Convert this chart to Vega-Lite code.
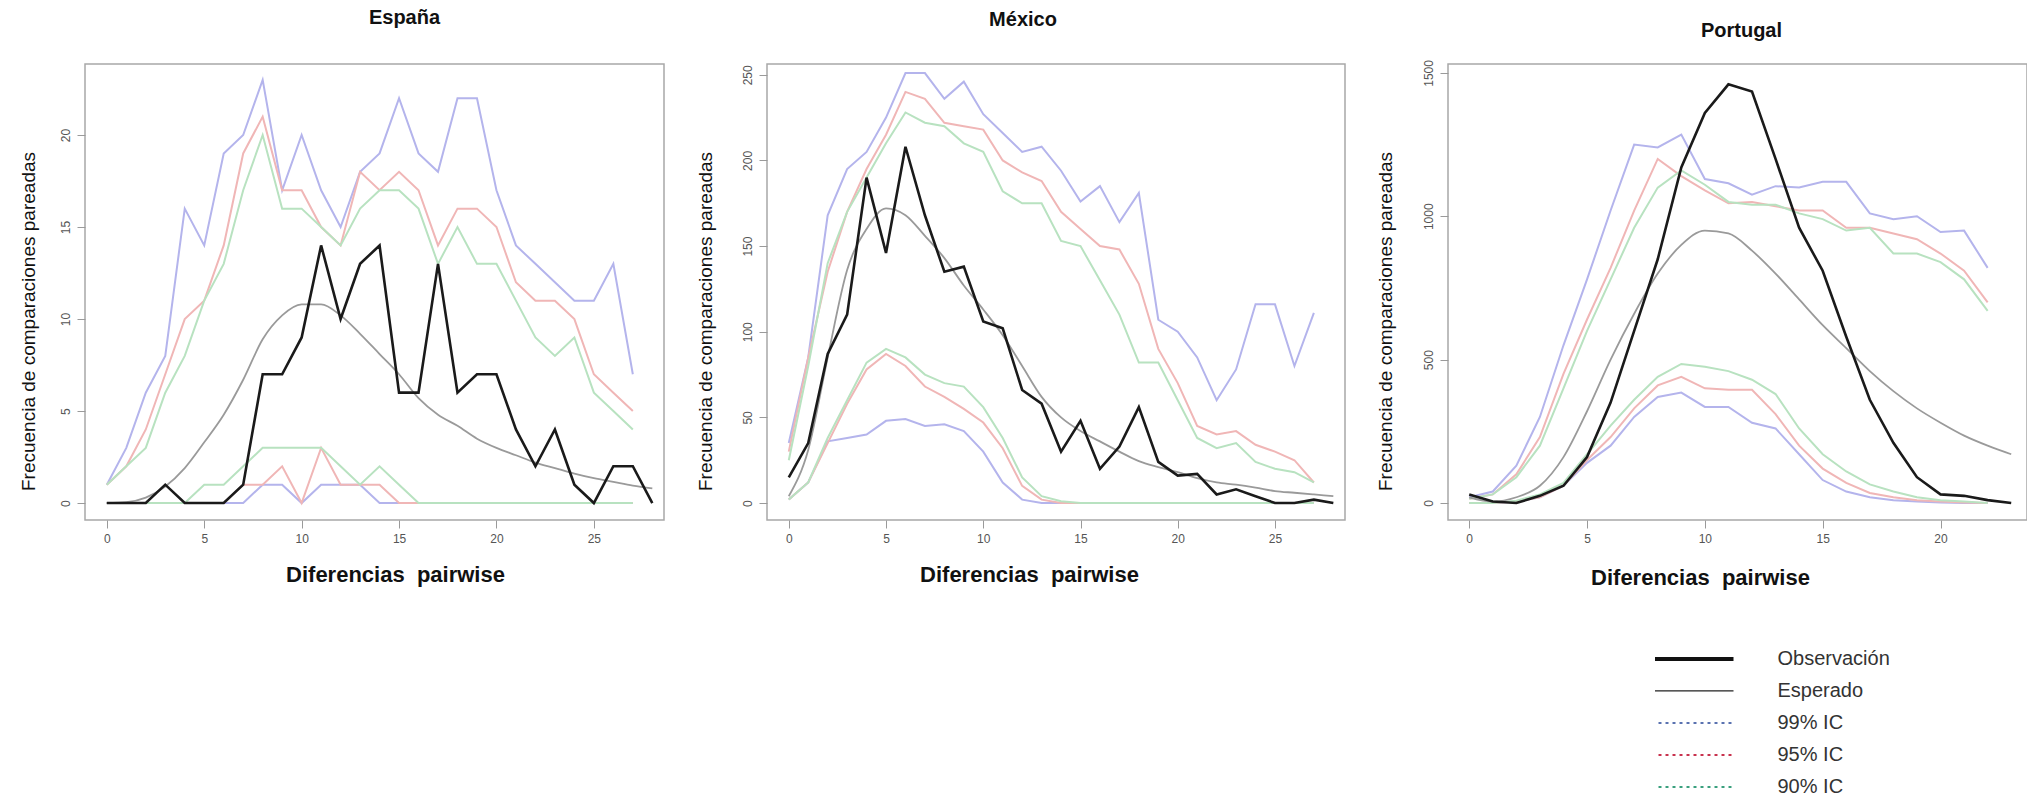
{
"$schema": "https://vega.github.io/schema/vega-lite/v6.json",
"background": "white",
"padding": {"left": 18, "top": 7, "right": 0, "bottom": 0},
"bounds": "flush",
"spacing": 103,
"config": {
  "view": {"stroke": "#a8a8a8", "strokeWidth": 1.5},
  "font": "Liberation Sans",
  "axis": {"labelFont": "Liberation Sans", "titleFont": "Liberation Sans", "grid": false, "domain": false, "tickSize": 8, "tickColor": "#9a9a9a", "labelColor": "#555555", "labelFontSize": 12, "labelPadding": 5, "titleColor": "#111111", "format": "d"},
  "title": {"font": "Liberation Sans"}
},
"datasets": {
"es": [
{"serie":"obs","x":0,"y":0},{"serie":"obs","x":1,"y":0},{"serie":"obs","x":2,"y":0},{"serie":"obs","x":3,"y":1},{"serie":"obs","x":4,"y":0},{"serie":"obs","x":5,"y":0},{"serie":"obs","x":6,"y":0},{"serie":"obs","x":7,"y":1},{"serie":"obs","x":8,"y":7},{"serie":"obs","x":9,"y":7},{"serie":"obs","x":10,"y":9},{"serie":"obs","x":11,"y":14},{"serie":"obs","x":12,"y":10},{"serie":"obs","x":13,"y":13},{"serie":"obs","x":14,"y":14},{"serie":"obs","x":15,"y":6},{"serie":"obs","x":16,"y":6},{"serie":"obs","x":17,"y":13},{"serie":"obs","x":18,"y":6},{"serie":"obs","x":19,"y":7},{"serie":"obs","x":20,"y":7},{"serie":"obs","x":21,"y":4},{"serie":"obs","x":22,"y":2},{"serie":"obs","x":23,"y":4},{"serie":"obs","x":24,"y":1},{"serie":"obs","x":25,"y":0},{"serie":"obs","x":26,"y":2},{"serie":"obs","x":27,"y":2},{"serie":"obs","x":28,"y":0},
{"serie":"esp","x":0,"y":0},{"serie":"esp","x":1,"y":0.05},{"serie":"esp","x":2,"y":0.3},{"serie":"esp","x":3,"y":0.9},{"serie":"esp","x":4,"y":1.9},{"serie":"esp","x":5,"y":3.3},{"serie":"esp","x":6,"y":4.8},{"serie":"esp","x":7,"y":6.7},{"serie":"esp","x":8,"y":8.9},{"serie":"esp","x":9,"y":10.2},{"serie":"esp","x":10,"y":10.8},{"serie":"esp","x":11,"y":10.8},{"serie":"esp","x":12,"y":10.2},{"serie":"esp","x":13,"y":9.2},{"serie":"esp","x":14,"y":8.1},{"serie":"esp","x":15,"y":7.0},{"serie":"esp","x":16,"y":5.7},{"serie":"esp","x":17,"y":4.8},{"serie":"esp","x":18,"y":4.2},{"serie":"esp","x":19,"y":3.5},{"serie":"esp","x":20,"y":3.0},{"serie":"esp","x":21,"y":2.6},{"serie":"esp","x":22,"y":2.2},{"serie":"esp","x":23,"y":1.9},{"serie":"esp","x":24,"y":1.6},{"serie":"esp","x":25,"y":1.35},{"serie":"esp","x":26,"y":1.15},{"serie":"esp","x":27,"y":0.95},{"serie":"esp","x":28,"y":0.8},
{"serie":"s99","x":0,"y":1},{"serie":"s99","x":1,"y":3},{"serie":"s99","x":2,"y":6},{"serie":"s99","x":3,"y":8},{"serie":"s99","x":4,"y":16},{"serie":"s99","x":5,"y":14},{"serie":"s99","x":6,"y":19},{"serie":"s99","x":7,"y":20},{"serie":"s99","x":8,"y":23},{"serie":"s99","x":9,"y":17},{"serie":"s99","x":10,"y":20},{"serie":"s99","x":11,"y":17},{"serie":"s99","x":12,"y":15},{"serie":"s99","x":13,"y":18},{"serie":"s99","x":14,"y":19},{"serie":"s99","x":15,"y":22},{"serie":"s99","x":16,"y":19},{"serie":"s99","x":17,"y":18},{"serie":"s99","x":18,"y":22},{"serie":"s99","x":19,"y":22},{"serie":"s99","x":20,"y":17},{"serie":"s99","x":21,"y":14},{"serie":"s99","x":22,"y":13},{"serie":"s99","x":23,"y":12},{"serie":"s99","x":24,"y":11},{"serie":"s99","x":25,"y":11},{"serie":"s99","x":26,"y":13},{"serie":"s99","x":27,"y":7},
{"serie":"s95","x":0,"y":1},{"serie":"s95","x":1,"y":2},{"serie":"s95","x":2,"y":4},{"serie":"s95","x":3,"y":7},{"serie":"s95","x":4,"y":10},{"serie":"s95","x":5,"y":11},{"serie":"s95","x":6,"y":14},{"serie":"s95","x":7,"y":19},{"serie":"s95","x":8,"y":21},{"serie":"s95","x":9,"y":17},{"serie":"s95","x":10,"y":17},{"serie":"s95","x":11,"y":15},{"serie":"s95","x":12,"y":14},{"serie":"s95","x":13,"y":18},{"serie":"s95","x":14,"y":17},{"serie":"s95","x":15,"y":18},{"serie":"s95","x":16,"y":17},{"serie":"s95","x":17,"y":14},{"serie":"s95","x":18,"y":16},{"serie":"s95","x":19,"y":16},{"serie":"s95","x":20,"y":15},{"serie":"s95","x":21,"y":12},{"serie":"s95","x":22,"y":11},{"serie":"s95","x":23,"y":11},{"serie":"s95","x":24,"y":10},{"serie":"s95","x":25,"y":7},{"serie":"s95","x":26,"y":6},{"serie":"s95","x":27,"y":5},
{"serie":"s90","x":0,"y":1},{"serie":"s90","x":1,"y":2},{"serie":"s90","x":2,"y":3},{"serie":"s90","x":3,"y":6},{"serie":"s90","x":4,"y":8},{"serie":"s90","x":5,"y":11},{"serie":"s90","x":6,"y":13},{"serie":"s90","x":7,"y":17},{"serie":"s90","x":8,"y":20},{"serie":"s90","x":9,"y":16},{"serie":"s90","x":10,"y":16},{"serie":"s90","x":11,"y":15},{"serie":"s90","x":12,"y":14},{"serie":"s90","x":13,"y":16},{"serie":"s90","x":14,"y":17},{"serie":"s90","x":15,"y":17},{"serie":"s90","x":16,"y":16},{"serie":"s90","x":17,"y":13},{"serie":"s90","x":18,"y":15},{"serie":"s90","x":19,"y":13},{"serie":"s90","x":20,"y":13},{"serie":"s90","x":21,"y":11},{"serie":"s90","x":22,"y":9},{"serie":"s90","x":23,"y":8},{"serie":"s90","x":24,"y":9},{"serie":"s90","x":25,"y":6},{"serie":"s90","x":26,"y":5},{"serie":"s90","x":27,"y":4},
{"serie":"i99","x":0,"y":0},{"serie":"i99","x":1,"y":0},{"serie":"i99","x":2,"y":0},{"serie":"i99","x":3,"y":0},{"serie":"i99","x":4,"y":0},{"serie":"i99","x":5,"y":0},{"serie":"i99","x":6,"y":0},{"serie":"i99","x":7,"y":0},{"serie":"i99","x":8,"y":1},{"serie":"i99","x":9,"y":1},{"serie":"i99","x":10,"y":0},{"serie":"i99","x":11,"y":1},{"serie":"i99","x":12,"y":1},{"serie":"i99","x":13,"y":1},{"serie":"i99","x":14,"y":0},{"serie":"i99","x":15,"y":0},{"serie":"i99","x":16,"y":0},{"serie":"i99","x":17,"y":0},{"serie":"i99","x":18,"y":0},{"serie":"i99","x":19,"y":0},{"serie":"i99","x":20,"y":0},{"serie":"i99","x":21,"y":0},{"serie":"i99","x":22,"y":0},{"serie":"i99","x":23,"y":0},{"serie":"i99","x":24,"y":0},{"serie":"i99","x":25,"y":0},{"serie":"i99","x":26,"y":0},{"serie":"i99","x":27,"y":0},
{"serie":"i95","x":0,"y":0},{"serie":"i95","x":1,"y":0},{"serie":"i95","x":2,"y":0},{"serie":"i95","x":3,"y":0},{"serie":"i95","x":4,"y":0},{"serie":"i95","x":5,"y":0},{"serie":"i95","x":6,"y":0},{"serie":"i95","x":7,"y":1},{"serie":"i95","x":8,"y":1},{"serie":"i95","x":9,"y":2},{"serie":"i95","x":10,"y":0},{"serie":"i95","x":11,"y":3},{"serie":"i95","x":12,"y":1},{"serie":"i95","x":13,"y":1},{"serie":"i95","x":14,"y":1},{"serie":"i95","x":15,"y":0},{"serie":"i95","x":16,"y":0},{"serie":"i95","x":17,"y":0},{"serie":"i95","x":18,"y":0},{"serie":"i95","x":19,"y":0},{"serie":"i95","x":20,"y":0},{"serie":"i95","x":21,"y":0},{"serie":"i95","x":22,"y":0},{"serie":"i95","x":23,"y":0},{"serie":"i95","x":24,"y":0},{"serie":"i95","x":25,"y":0},{"serie":"i95","x":26,"y":0},{"serie":"i95","x":27,"y":0},
{"serie":"i90","x":0,"y":0},{"serie":"i90","x":1,"y":0},{"serie":"i90","x":2,"y":0},{"serie":"i90","x":3,"y":0},{"serie":"i90","x":4,"y":0},{"serie":"i90","x":5,"y":1},{"serie":"i90","x":6,"y":1},{"serie":"i90","x":7,"y":2},{"serie":"i90","x":8,"y":3},{"serie":"i90","x":9,"y":3},{"serie":"i90","x":10,"y":3},{"serie":"i90","x":11,"y":3},{"serie":"i90","x":12,"y":2},{"serie":"i90","x":13,"y":1},{"serie":"i90","x":14,"y":2},{"serie":"i90","x":15,"y":1},{"serie":"i90","x":16,"y":0},{"serie":"i90","x":17,"y":0},{"serie":"i90","x":18,"y":0},{"serie":"i90","x":19,"y":0},{"serie":"i90","x":20,"y":0},{"serie":"i90","x":21,"y":0},{"serie":"i90","x":22,"y":0},{"serie":"i90","x":23,"y":0},{"serie":"i90","x":24,"y":0},{"serie":"i90","x":25,"y":0},{"serie":"i90","x":26,"y":0},{"serie":"i90","x":27,"y":0}
],
"mx": [
{"serie":"obs","x":0,"y":15},{"serie":"obs","x":1,"y":35},{"serie":"obs","x":2,"y":87},{"serie":"obs","x":3,"y":110},{"serie":"obs","x":4,"y":190},{"serie":"obs","x":5,"y":146},{"serie":"obs","x":6,"y":208},{"serie":"obs","x":7,"y":168},{"serie":"obs","x":8,"y":135},{"serie":"obs","x":9,"y":138},{"serie":"obs","x":10,"y":106},{"serie":"obs","x":11,"y":102},{"serie":"obs","x":12,"y":66},{"serie":"obs","x":13,"y":58},{"serie":"obs","x":14,"y":30},{"serie":"obs","x":15,"y":48},{"serie":"obs","x":16,"y":20},{"serie":"obs","x":17,"y":33},{"serie":"obs","x":18,"y":56},{"serie":"obs","x":19,"y":24},{"serie":"obs","x":20,"y":16},{"serie":"obs","x":21,"y":17},{"serie":"obs","x":22,"y":5},{"serie":"obs","x":23,"y":8},{"serie":"obs","x":24,"y":4},{"serie":"obs","x":25,"y":0},{"serie":"obs","x":26,"y":0},{"serie":"obs","x":27,"y":2},{"serie":"obs","x":28,"y":0},
{"serie":"esp","x":0,"y":4},{"serie":"esp","x":1,"y":31},{"serie":"esp","x":2,"y":85},{"serie":"esp","x":3,"y":136},{"serie":"esp","x":4,"y":160},{"serie":"esp","x":5,"y":172},{"serie":"esp","x":6,"y":168},{"serie":"esp","x":7,"y":156},{"serie":"esp","x":8,"y":143},{"serie":"esp","x":9,"y":127},{"serie":"esp","x":10,"y":113},{"serie":"esp","x":11,"y":98},{"serie":"esp","x":12,"y":80},{"serie":"esp","x":13,"y":62},{"serie":"esp","x":14,"y":50},{"serie":"esp","x":15,"y":42},{"serie":"esp","x":16,"y":36},{"serie":"esp","x":17,"y":30},{"serie":"esp","x":18,"y":24.5},{"serie":"esp","x":19,"y":21},{"serie":"esp","x":20,"y":18},{"serie":"esp","x":21,"y":14.5},{"serie":"esp","x":22,"y":12},{"serie":"esp","x":23,"y":10.7},{"serie":"esp","x":24,"y":9},{"serie":"esp","x":25,"y":7},{"serie":"esp","x":26,"y":6},{"serie":"esp","x":27,"y":5},{"serie":"esp","x":28,"y":4},
{"serie":"s99","x":0,"y":35},{"serie":"s99","x":1,"y":85},{"serie":"s99","x":2,"y":168},{"serie":"s99","x":3,"y":195},{"serie":"s99","x":4,"y":205},{"serie":"s99","x":5,"y":225},{"serie":"s99","x":6,"y":251},{"serie":"s99","x":7,"y":251},{"serie":"s99","x":8,"y":236},{"serie":"s99","x":9,"y":246},{"serie":"s99","x":10,"y":227},{"serie":"s99","x":11,"y":216},{"serie":"s99","x":12,"y":205},{"serie":"s99","x":13,"y":208},{"serie":"s99","x":14,"y":194},{"serie":"s99","x":15,"y":176},{"serie":"s99","x":16,"y":185},{"serie":"s99","x":17,"y":164},{"serie":"s99","x":18,"y":181},{"serie":"s99","x":19,"y":107},{"serie":"s99","x":20,"y":100},{"serie":"s99","x":21,"y":85},{"serie":"s99","x":22,"y":60},{"serie":"s99","x":23,"y":78},{"serie":"s99","x":24,"y":116},{"serie":"s99","x":25,"y":116},{"serie":"s99","x":26,"y":80},{"serie":"s99","x":27,"y":111},
{"serie":"s95","x":0,"y":30},{"serie":"s95","x":1,"y":85},{"serie":"s95","x":2,"y":135},{"serie":"s95","x":3,"y":170},{"serie":"s95","x":4,"y":195},{"serie":"s95","x":5,"y":215},{"serie":"s95","x":6,"y":240},{"serie":"s95","x":7,"y":236},{"serie":"s95","x":8,"y":222},{"serie":"s95","x":9,"y":220},{"serie":"s95","x":10,"y":218},{"serie":"s95","x":11,"y":200},{"serie":"s95","x":12,"y":193},{"serie":"s95","x":13,"y":188},{"serie":"s95","x":14,"y":170},{"serie":"s95","x":15,"y":160},{"serie":"s95","x":16,"y":150},{"serie":"s95","x":17,"y":148},{"serie":"s95","x":18,"y":128},{"serie":"s95","x":19,"y":90},{"serie":"s95","x":20,"y":70},{"serie":"s95","x":21,"y":45},{"serie":"s95","x":22,"y":40},{"serie":"s95","x":23,"y":42},{"serie":"s95","x":24,"y":34},{"serie":"s95","x":25,"y":30},{"serie":"s95","x":26,"y":25},{"serie":"s95","x":27,"y":12},
{"serie":"s90","x":0,"y":25},{"serie":"s90","x":1,"y":80},{"serie":"s90","x":2,"y":140},{"serie":"s90","x":3,"y":170},{"serie":"s90","x":4,"y":190},{"serie":"s90","x":5,"y":210},{"serie":"s90","x":6,"y":228},{"serie":"s90","x":7,"y":222},{"serie":"s90","x":8,"y":220},{"serie":"s90","x":9,"y":210},{"serie":"s90","x":10,"y":205},{"serie":"s90","x":11,"y":182},{"serie":"s90","x":12,"y":175},{"serie":"s90","x":13,"y":175},{"serie":"s90","x":14,"y":153},{"serie":"s90","x":15,"y":150},{"serie":"s90","x":16,"y":130},{"serie":"s90","x":17,"y":110},{"serie":"s90","x":18,"y":82},{"serie":"s90","x":19,"y":82},{"serie":"s90","x":20,"y":60},{"serie":"s90","x":21,"y":38},{"serie":"s90","x":22,"y":32},{"serie":"s90","x":23,"y":35},{"serie":"s90","x":24,"y":24},{"serie":"s90","x":25,"y":20},{"serie":"s90","x":26,"y":18},{"serie":"s90","x":27,"y":12},
{"serie":"i99","x":0,"y":2},{"serie":"i99","x":1,"y":12},{"serie":"i99","x":2,"y":36},{"serie":"i99","x":3,"y":38},{"serie":"i99","x":4,"y":40},{"serie":"i99","x":5,"y":48},{"serie":"i99","x":6,"y":49},{"serie":"i99","x":7,"y":45},{"serie":"i99","x":8,"y":46},{"serie":"i99","x":9,"y":42},{"serie":"i99","x":10,"y":30},{"serie":"i99","x":11,"y":12},{"serie":"i99","x":12,"y":2},{"serie":"i99","x":13,"y":0},{"serie":"i99","x":14,"y":0},{"serie":"i99","x":15,"y":0},{"serie":"i99","x":16,"y":0},{"serie":"i99","x":17,"y":0},{"serie":"i99","x":18,"y":0},{"serie":"i99","x":19,"y":0},{"serie":"i99","x":20,"y":0},{"serie":"i99","x":21,"y":0},{"serie":"i99","x":22,"y":0},{"serie":"i99","x":23,"y":0},{"serie":"i99","x":24,"y":0},{"serie":"i99","x":25,"y":0},{"serie":"i99","x":26,"y":0},{"serie":"i99","x":27,"y":0},
{"serie":"i95","x":0,"y":2},{"serie":"i95","x":1,"y":12},{"serie":"i95","x":2,"y":35},{"serie":"i95","x":3,"y":58},{"serie":"i95","x":4,"y":78},{"serie":"i95","x":5,"y":87},{"serie":"i95","x":6,"y":80},{"serie":"i95","x":7,"y":68},{"serie":"i95","x":8,"y":62},{"serie":"i95","x":9,"y":55},{"serie":"i95","x":10,"y":47},{"serie":"i95","x":11,"y":32},{"serie":"i95","x":12,"y":10},{"serie":"i95","x":13,"y":2},{"serie":"i95","x":14,"y":0},{"serie":"i95","x":15,"y":0},{"serie":"i95","x":16,"y":0},{"serie":"i95","x":17,"y":0},{"serie":"i95","x":18,"y":0},{"serie":"i95","x":19,"y":0},{"serie":"i95","x":20,"y":0},{"serie":"i95","x":21,"y":0},{"serie":"i95","x":22,"y":0},{"serie":"i95","x":23,"y":0},{"serie":"i95","x":24,"y":0},{"serie":"i95","x":25,"y":0},{"serie":"i95","x":26,"y":0},{"serie":"i95","x":27,"y":0},
{"serie":"i90","x":0,"y":2},{"serie":"i90","x":1,"y":12},{"serie":"i90","x":2,"y":38},{"serie":"i90","x":3,"y":60},{"serie":"i90","x":4,"y":82},{"serie":"i90","x":5,"y":90},{"serie":"i90","x":6,"y":85},{"serie":"i90","x":7,"y":75},{"serie":"i90","x":8,"y":70},{"serie":"i90","x":9,"y":68},{"serie":"i90","x":10,"y":56},{"serie":"i90","x":11,"y":38},{"serie":"i90","x":12,"y":15},{"serie":"i90","x":13,"y":4},{"serie":"i90","x":14,"y":1},{"serie":"i90","x":15,"y":0},{"serie":"i90","x":16,"y":0},{"serie":"i90","x":17,"y":0},{"serie":"i90","x":18,"y":0},{"serie":"i90","x":19,"y":0},{"serie":"i90","x":20,"y":0},{"serie":"i90","x":21,"y":0},{"serie":"i90","x":22,"y":0},{"serie":"i90","x":23,"y":0},{"serie":"i90","x":24,"y":0},{"serie":"i90","x":25,"y":0},{"serie":"i90","x":26,"y":0},{"serie":"i90","x":27,"y":0}
],
"pt": [
{"serie":"obs","x":0,"y":30},{"serie":"obs","x":1,"y":5},{"serie":"obs","x":2,"y":0},{"serie":"obs","x":3,"y":25},{"serie":"obs","x":4,"y":60},{"serie":"obs","x":5,"y":160},{"serie":"obs","x":6,"y":350},{"serie":"obs","x":7,"y":600},{"serie":"obs","x":8,"y":850},{"serie":"obs","x":9,"y":1170},{"serie":"obs","x":10,"y":1360},{"serie":"obs","x":11,"y":1460},{"serie":"obs","x":12,"y":1435},{"serie":"obs","x":13,"y":1200},{"serie":"obs","x":14,"y":960},{"serie":"obs","x":15,"y":810},{"serie":"obs","x":16,"y":580},{"serie":"obs","x":17,"y":360},{"serie":"obs","x":18,"y":210},{"serie":"obs","x":19,"y":90},{"serie":"obs","x":20,"y":30},{"serie":"obs","x":21,"y":25},{"serie":"obs","x":22,"y":10},{"serie":"obs","x":23,"y":0},
{"serie":"esp","x":0,"y":20},{"serie":"esp","x":1,"y":5},{"serie":"esp","x":2,"y":20},{"serie":"esp","x":3,"y":60},{"serie":"esp","x":4,"y":160},{"serie":"esp","x":5,"y":320},{"serie":"esp","x":6,"y":500},{"serie":"esp","x":7,"y":660},{"serie":"esp","x":8,"y":800},{"serie":"esp","x":9,"y":900},{"serie":"esp","x":10,"y":950},{"serie":"esp","x":11,"y":940},{"serie":"esp","x":12,"y":880},{"serie":"esp","x":13,"y":800},{"serie":"esp","x":14,"y":710},{"serie":"esp","x":15,"y":620},{"serie":"esp","x":16,"y":540},{"serie":"esp","x":17,"y":460},{"serie":"esp","x":18,"y":390},{"serie":"esp","x":19,"y":330},{"serie":"esp","x":20,"y":280},{"serie":"esp","x":21,"y":235},{"serie":"esp","x":22,"y":200},{"serie":"esp","x":23,"y":170},
{"serie":"s99","x":0,"y":20},{"serie":"s99","x":1,"y":40},{"serie":"s99","x":2,"y":130},{"serie":"s99","x":3,"y":300},{"serie":"s99","x":4,"y":550},{"serie":"s99","x":5,"y":780},{"serie":"s99","x":6,"y":1020},{"serie":"s99","x":7,"y":1250},{"serie":"s99","x":8,"y":1240},{"serie":"s99","x":9,"y":1285},{"serie":"s99","x":10,"y":1130},{"serie":"s99","x":11,"y":1115},{"serie":"s99","x":12,"y":1075},{"serie":"s99","x":13,"y":1105},{"serie":"s99","x":14,"y":1100},{"serie":"s99","x":15,"y":1120},{"serie":"s99","x":16,"y":1120},{"serie":"s99","x":17,"y":1010},{"serie":"s99","x":18,"y":990},{"serie":"s99","x":19,"y":1000},{"serie":"s99","x":20,"y":945},{"serie":"s99","x":21,"y":950},{"serie":"s99","x":22,"y":820},
{"serie":"s95","x":0,"y":15},{"serie":"s95","x":1,"y":30},{"serie":"s95","x":2,"y":100},{"serie":"s95","x":3,"y":230},{"serie":"s95","x":4,"y":450},{"serie":"s95","x":5,"y":640},{"serie":"s95","x":6,"y":820},{"serie":"s95","x":7,"y":1020},{"serie":"s95","x":8,"y":1200},{"serie":"s95","x":9,"y":1140},{"serie":"s95","x":10,"y":1090},{"serie":"s95","x":11,"y":1045},{"serie":"s95","x":12,"y":1050},{"serie":"s95","x":13,"y":1035},{"serie":"s95","x":14,"y":1020},{"serie":"s95","x":15,"y":1020},{"serie":"s95","x":16,"y":960},{"serie":"s95","x":17,"y":960},{"serie":"s95","x":18,"y":940},{"serie":"s95","x":19,"y":920},{"serie":"s95","x":20,"y":870},{"serie":"s95","x":21,"y":810},{"serie":"s95","x":22,"y":700},
{"serie":"s90","x":0,"y":15},{"serie":"s90","x":1,"y":30},{"serie":"s90","x":2,"y":90},{"serie":"s90","x":3,"y":200},{"serie":"s90","x":4,"y":400},{"serie":"s90","x":5,"y":600},{"serie":"s90","x":6,"y":780},{"serie":"s90","x":7,"y":960},{"serie":"s90","x":8,"y":1100},{"serie":"s90","x":9,"y":1160},{"serie":"s90","x":10,"y":1110},{"serie":"s90","x":11,"y":1050},{"serie":"s90","x":12,"y":1040},{"serie":"s90","x":13,"y":1040},{"serie":"s90","x":14,"y":1010},{"serie":"s90","x":15,"y":990},{"serie":"s90","x":16,"y":950},{"serie":"s90","x":17,"y":960},{"serie":"s90","x":18,"y":870},{"serie":"s90","x":19,"y":870},{"serie":"s90","x":20,"y":840},{"serie":"s90","x":21,"y":780},{"serie":"s90","x":22,"y":670},
{"serie":"i99","x":0,"y":0},{"serie":"i99","x":1,"y":0},{"serie":"i99","x":2,"y":5},{"serie":"i99","x":3,"y":20},{"serie":"i99","x":4,"y":60},{"serie":"i99","x":5,"y":140},{"serie":"i99","x":6,"y":200},{"serie":"i99","x":7,"y":300},{"serie":"i99","x":8,"y":370},{"serie":"i99","x":9,"y":385},{"serie":"i99","x":10,"y":335},{"serie":"i99","x":11,"y":335},{"serie":"i99","x":12,"y":280},{"serie":"i99","x":13,"y":260},{"serie":"i99","x":14,"y":170},{"serie":"i99","x":15,"y":80},{"serie":"i99","x":16,"y":40},{"serie":"i99","x":17,"y":20},{"serie":"i99","x":18,"y":10},{"serie":"i99","x":19,"y":5},{"serie":"i99","x":20,"y":2},{"serie":"i99","x":21,"y":0},{"serie":"i99","x":22,"y":0},
{"serie":"i95","x":0,"y":0},{"serie":"i95","x":1,"y":0},{"serie":"i95","x":2,"y":5},{"serie":"i95","x":3,"y":20},{"serie":"i95","x":4,"y":60},{"serie":"i95","x":5,"y":150},{"serie":"i95","x":6,"y":230},{"serie":"i95","x":7,"y":330},{"serie":"i95","x":8,"y":410},{"serie":"i95","x":9,"y":440},{"serie":"i95","x":10,"y":400},{"serie":"i95","x":11,"y":395},{"serie":"i95","x":12,"y":395},{"serie":"i95","x":13,"y":310},{"serie":"i95","x":14,"y":200},{"serie":"i95","x":15,"y":120},{"serie":"i95","x":16,"y":70},{"serie":"i95","x":17,"y":35},{"serie":"i95","x":18,"y":20},{"serie":"i95","x":19,"y":10},{"serie":"i95","x":20,"y":5},{"serie":"i95","x":21,"y":2},{"serie":"i95","x":22,"y":0},
{"serie":"i90","x":0,"y":0},{"serie":"i90","x":1,"y":0},{"serie":"i90","x":2,"y":8},{"serie":"i90","x":3,"y":30},{"serie":"i90","x":4,"y":70},{"serie":"i90","x":5,"y":170},{"serie":"i90","x":6,"y":270},{"serie":"i90","x":7,"y":360},{"serie":"i90","x":8,"y":440},{"serie":"i90","x":9,"y":485},{"serie":"i90","x":10,"y":475},{"serie":"i90","x":11,"y":460},{"serie":"i90","x":12,"y":430},{"serie":"i90","x":13,"y":380},{"serie":"i90","x":14,"y":260},{"serie":"i90","x":15,"y":170},{"serie":"i90","x":16,"y":110},{"serie":"i90","x":17,"y":65},{"serie":"i90","x":18,"y":40},{"serie":"i90","x":19,"y":20},{"serie":"i90","x":20,"y":10},{"serie":"i90","x":21,"y":5},{"serie":"i90","x":22,"y":0}
]
},
"resolve": {"scale": {"color": "independent", "stroke": "independent"}, "legend": {"stroke": "independent"}},
"hconcat": [
{
  "width": 579, "height": 456,
  "data": {"name": "es"},
  "title": {"text": "España", "dx": 30, "offset": 26, "baseline": "middle", "anchor": "middle", "fontSize": 20, "fontWeight": "bold", "color": "#111111"},
  "encoding": {
    "x": {"field": "x", "type": "quantitative", "scale": {"domain": [-1.12, 28.6], "nice": false, "zero": false},
          "axis": {"values": [0, 5, 10, 15, 20, 25], "title": "Diferencias\u00a0 pairwise", "titleFontSize": 22, "titleFontWeight": "bold", "titleX": 310, "titleY": 54, "titleBaseline": "middle", "titleAlign": "center"}},
    "y": {"field": "y", "type": "quantitative", "scale": {"domain": [-0.92, 23.86], "nice": false, "zero": false},
          "axis": {"values": [0, 5, 10, 15, 20], "labelAngle": -90, "title": "Frecuencia de comparaciones pareadas", "titleFontSize": 19, "titleFontWeight": "normal", "titleX": -57, "titleY": 257, "titleAngle": -90, "titleBaseline": "middle", "titleAlign": "center"}},
    "color": {"field": "serie", "type": "nominal", "legend": null,
              "scale": {"domain": ["obs", "esp", "s99", "i99", "s95", "i95", "s90", "i90"], "range": ["#1a1a1a", "#9a9a9a", "#b4b4ec", "#b4b4ec", "#f0b6b6", "#f0b6b6", "#b8e2c0", "#b8e2c0"]}}
  },
  "layer": [
    {"transform": [{"filter": "datum.serie != 'obs' && datum.serie != 'esp'"}], "mark": {"type": "line", "strokeWidth": 2, "clip": true}},
    {"transform": [{"filter": "datum.serie == 'esp'"}], "mark": {"type": "line", "strokeWidth": 1.8, "interpolate": "monotone", "clip": true}},
    {"transform": [{"filter": "datum.serie == 'obs'"}], "mark": {"type": "line", "strokeWidth": 2.6, "clip": true}}
  ]
},
{
  "width": 578, "height": 456,
  "data": {"name": "mx"},
  "title": {"text": "México", "dx": -33, "offset": 24, "baseline": "middle", "anchor": "middle", "fontSize": 20, "fontWeight": "bold", "color": "#111111"},
  "encoding": {
    "x": {"field": "x", "type": "quantitative", "scale": {"domain": [-1.12, 28.6], "nice": false, "zero": false},
          "axis": {"values": [0, 5, 10, 15, 20, 25], "title": "Diferencias\u00a0 pairwise", "titleFontSize": 22, "titleFontWeight": "bold", "titleX": 262, "titleY": 54, "titleBaseline": "middle", "titleAlign": "center"}},
    "y": {"field": "y", "type": "quantitative", "scale": {"domain": [-9.9, 256.3], "nice": false, "zero": false},
          "axis": {"values": [0, 50, 100, 150, 200, 250], "labelAngle": -90, "title": "Frecuencia de comparaciones pareadas", "titleFontSize": 19, "titleFontWeight": "normal", "titleX": -62, "titleY": 257, "titleAngle": -90, "titleBaseline": "middle", "titleAlign": "center"}},
    "color": {"field": "serie", "type": "nominal", "legend": null,
              "scale": {"domain": ["obs", "esp", "s99", "i99", "s95", "i95", "s90", "i90"], "range": ["#1a1a1a", "#9a9a9a", "#b4b4ec", "#b4b4ec", "#f0b6b6", "#f0b6b6", "#b8e2c0", "#b8e2c0"]}}
  },
  "layer": [
    {"transform": [{"filter": "datum.serie != 'obs' && datum.serie != 'esp'"}], "mark": {"type": "line", "strokeWidth": 2, "clip": true}},
    {"transform": [{"filter": "datum.serie == 'esp'"}], "mark": {"type": "line", "strokeWidth": 1.8, "interpolate": "monotone", "clip": true}},
    {"transform": [{"filter": "datum.serie == 'obs'"}], "mark": {"type": "line", "strokeWidth": 2.6, "clip": true}}
  ]
},
{
  "width": 579, "height": 456,
  "data": {"name": "pt"},
  "title": {"text": "Portugal", "dx": 4, "offset": 9, "baseline": "middle", "anchor": "middle", "fontSize": 20, "fontWeight": "bold", "color": "#111111"},
  "encoding": {
    "x": {"field": "x", "type": "quantitative", "scale": {"domain": [-0.9, 23.67], "nice": false, "zero": false},
          "axis": {"values": [0, 5, 10, 15, 20], "title": "Diferencias\u00a0 pairwise", "titleFontSize": 22, "titleFontWeight": "bold", "titleX": 252, "titleY": 57, "titleBaseline": "middle", "titleAlign": "center"}},
    "y": {"field": "y", "type": "quantitative", "scale": {"domain": [-59.3, 1531], "nice": false, "zero": false},
          "axis": {"values": [0, 500, 1000, 1500], "labelAngle": -90, "title": "Frecuencia de comparaciones pareadas", "titleFontSize": 19, "titleFontWeight": "normal", "titleX": -63, "titleY": 257, "titleAngle": -90, "titleBaseline": "middle", "titleAlign": "center"}},
    "color": {"field": "serie", "type": "nominal", "legend": null,
              "scale": {"domain": ["obs", "esp", "s99", "i99", "s95", "i95", "s90", "i90"], "range": ["#1a1a1a", "#9a9a9a", "#b4b4ec", "#b4b4ec", "#f0b6b6", "#f0b6b6", "#b8e2c0", "#b8e2c0"]}}
  },
  "layer": [
    {"transform": [{"filter": "datum.serie != 'obs' && datum.serie != 'esp'"}], "mark": {"type": "line", "strokeWidth": 2, "clip": true}},
    {"transform": [{"filter": "datum.serie == 'esp'"}], "mark": {"type": "line", "strokeWidth": 1.8, "interpolate": "monotone", "clip": true}},
    {"transform": [{"filter": "datum.serie == 'obs'"}], "mark": {"type": "line", "strokeWidth": 2.6, "clip": true}},
    {"transform": [{"filter": "false"}], "mark": {"type": "line", "clip": true},
     "encoding": {"stroke": {"field": "serie", "type": "nominal",
        "scale": {"domain": ["obs", "esp", "s99", "s95", "s90"], "range": ["#111111", "#222222", "#5a72b0", "#c8324e", "#3aa07e"]},
        "legend": {
          "orient": "none", "legendX": 207, "legendY": 579, "direction": "vertical", "title": null,
          "labelExpr": "datum.value == 'obs' ? 'Observación' : datum.value == 'esp' ? 'Esperado' : datum.value == 's99' ? '99% IC' : datum.value == 's95' ? '95% IC' : '90% IC'",
          "symbolType": "stroke", "symbolSize": 6724, "symbolOffset": 27.5, "symbolOpacity": 1, "clipHeight": 31.75, "rowPadding": 0, "padding": 0,
          "labelOffset": 75, "labelFontSize": 20, "labelFont": "Liberation Sans", "labelColor": "#333333", "labelLimit": 300,
          "encode": {"symbols": {"update": {
            "strokeDash": {"signal": "datum.value == 'obs' || datum.value == 'esp' ? [1, 0] : [3, 4]"},
            "strokeWidth": {"signal": "datum.value == 'obs' ? 4 : datum.value == 'esp' ? 1.3 : 2"}
          }}}
        }}}}
  ]
}
]
}
